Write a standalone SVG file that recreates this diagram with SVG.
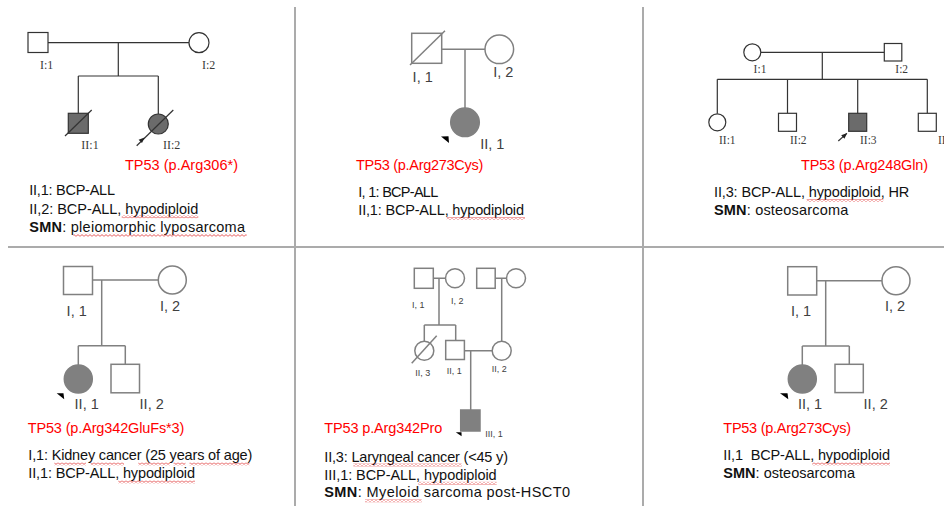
<svg xmlns="http://www.w3.org/2000/svg" width="944" height="506" viewBox="0 0 944 506">
<defs>
<pattern id="sq" width="4" height="3" patternUnits="userSpaceOnUse">
<path d="M0,2.4 L2,0.6 L4,2.4" fill="none" stroke="#e03030" stroke-width="0.8"/>
</pattern>
<marker id="ah" viewBox="0 0 10 10" refX="9" refY="5" markerWidth="5" markerHeight="5" orient="auto">
<path d="M0,1 L10,5 L0,9 Z" fill="#222"/>
</marker>
</defs>
<style>
.grid{stroke:#ababab;stroke-width:2;fill:none}
.l1{stroke:#333;stroke-width:1.2;fill:none}
.l2{stroke:#808080;stroke-width:1.5;fill:none}
.n1{fill:#fff;stroke:#333;stroke-width:1.2}
.a1{fill:#6b6b6b;stroke:#333;stroke-width:1.2}
.n2{fill:#fff;stroke:#808080;stroke-width:1.5}
.a2{fill:#808080;stroke:#808080;stroke-width:1.5}
.s1{font-family:"Liberation Serif","DejaVu Serif",serif;font-size:12px;fill:#3a3a3a;text-anchor:middle}
.s3{font-family:"Liberation Serif","DejaVu Serif",serif;font-size:11.5px;fill:#3a3a3a;text-anchor:middle}
.lb{font-family:"Liberation Sans",Arial,sans-serif;font-size:14.5px;fill:#404040;text-anchor:middle}
.lbs{font-family:"Liberation Sans",Arial,sans-serif;font-size:9px;fill:#404040;text-anchor:middle}
.tx{font-family:"Liberation Sans",Arial,sans-serif;font-size:14.5px;fill:#111}
.red{font-family:"Liberation Sans",Arial,sans-serif;font-size:14.5px;fill:#ff0000}
.b{font-weight:bold}
.tri{fill:#000}
</style>
<rect width="944" height="506" fill="#fff"/>

<g id="grid">
<line class="grid" x1="295" y1="7" x2="295" y2="506"/>
<line class="grid" x1="643" y1="7" x2="643" y2="506"/>
<line class="grid" x1="8" y1="247" x2="944" y2="247"/>
</g>

<g id="connectors">
<path class="l1" d="M48,42.7 H189 M118.3,42.7 V76 M78.3,76 H158.3 M78.3,76 V113.3 M158.3,76 V114"/>
<path class="l2" d="M441.7,49.3 H485 M465,49.3 V108"/>
<path class="l1" d="M760.8,52.3 H884.3 M822.3,52.3 V79.3 M717.3,79.3 H927.3 M717.3,79.3 V113.8 M787.5,79.3 V113.3 M857.7,79.3 V113.3 M927.3,79.3 V113.3"/>
<path class="l2" d="M92.5,280 H158.3 M101.7,280 V345.7 M78.3,345.7 H125.3 M78.3,345.7 V365 M125.3,345.7 V364.3"/>
<path class="l2" d="M433.3,278.3 H445.5 M439,278.3 V325 M424.3,325 H455.7 M424.3,325 V341.2 M455.7,325 V340.5 M495.2,278.3 H506.5 M501.7,278.3 V341.2 M464.4,350.7 H492.2 M470.7,350.7 V410"/>
<path class="l2" d="M816.7,280.7 H882 M825.7,280.7 V346 M802.3,346 H849.3 M802.3,346 V365 M849.3,346 V364.3"/>
</g>

<!-- Panel 1 -->
<g id="p1-I1"><rect class="n1" x="28" y="32.5" width="20" height="20"/><text class="s1" x="46.7" y="68.5">I:1</text></g>
<g id="p1-I2"><circle class="n1" cx="199" cy="42.7" r="10"/><text class="s1" x="208.7" y="68.5">I:2</text></g>
<g id="p1-II1"><rect class="a1" x="68.3" y="113.3" width="20" height="20"/><line class="l1" x1="65" y1="136" x2="91.7" y2="110"/><text class="s1" x="90" y="148.5">II:1</text></g>
<g id="p1-II2"><circle class="a1" cx="158.3" cy="124" r="10"/><line class="l1" x1="136.7" y1="145.7" x2="173.3" y2="110"/><polygon points="144.5,137.6 142,143 138.6,139.8" fill="#222"/><text class="s1" x="171.7" y="148.5">II:2</text></g>
<g id="p1-text">
<text class="red" x="125" y="170" textLength="113">TP53 (p.Arg306*)</text>
<text class="tx" x="29.3" y="195" textLength="85.7">II,1: BCP-ALL</text>
<text class="tx" x="29.3" y="213.5" textLength="169">II,2: BCP-ALL, hypodiploid</text>
<text class="tx" x="29.3" y="232" textLength="215.7"><tspan class="b">SMN</tspan>: pleiomorphic lyposarcoma</text>
<rect x="121.7" y="215.2" width="76.6" height="3" fill="url(#sq)"/>
<rect x="73.3" y="233.8" width="173.4" height="3" fill="url(#sq)"/>
</g>

<!-- Panel 2 -->
<g id="p2-I1"><rect class="n2" x="411.7" y="33.3" width="30" height="30"/><line class="l2" x1="410" y1="65" x2="445" y2="30.7"/><text class="lb" x="422.7" y="81.7">I, 1</text></g>
<g id="p2-I2"><circle class="n2" cx="499.3" cy="49.3" r="14.3"/><text class="lb" x="503.3" y="77.3">I, 2</text></g>
<g id="p2-II1"><circle class="a2" cx="465" cy="122.3" r="14.3"/><polygon class="tri" points="441,136.5 448.5,136.3 449,143"/><text class="lb" x="492.3" y="149.3">II, 1</text></g>
<g id="p2-text">
<text class="red" x="356" y="170" textLength="127.3">TP53 (p.Arg273Cys)</text>
<text class="tx" x="358.3" y="196.7" textLength="80">I, 1: BCP-ALL</text>
<text class="tx" x="358.3" y="215" textLength="165.7">II,1: BCP-ALL, hypodiploid</text>
<rect x="446.7" y="217" width="78.3" height="3" fill="url(#sq)"/>
</g>

<!-- Panel 3 -->
<g id="p3-I1"><circle class="n1" cx="752.3" cy="52.3" r="8.5"/><text class="s3" x="760" y="72.7">I:1</text></g>
<g id="p3-I2"><rect class="n1" x="884.3" y="43.5" width="17.5" height="17.5"/><text class="s3" x="901.7" y="72.7">I:2</text></g>
<g id="p3-II1"><circle class="n1" cx="717.3" cy="122.3" r="8.5"/><text class="s3" x="727.3" y="144">II:1</text></g>
<g id="p3-II2"><rect class="n1" x="778.5" y="113.3" width="18" height="18"/><text class="s3" x="798.3" y="144">II:2</text></g>
<g id="p3-II3"><rect class="a1" x="848.7" y="113.3" width="18" height="18"/><line class="l1" x1="838.3" y1="141" x2="846.8" y2="133.4" marker-end="url(#ah)"/><text class="s3" x="868.3" y="144">II:3</text></g>
<g id="p3-II4"><rect class="n1" x="918.3" y="113.3" width="18" height="18"/><text class="s3" x="938" y="144" style="text-anchor:start">II:4</text></g>
<g id="p3-text">
<text class="red" x="801" y="170" textLength="127">TP53 (p.Arg248Gln)</text>
<text class="tx" x="714" y="196.7" textLength="195.3">II,3: BCP-ALL, hypodiploid, HR</text>
<text class="tx" x="714" y="215" textLength="134.3"><tspan class="b">SMN</tspan>: osteosarcoma</text>
<rect x="806.7" y="199" width="76.6" height="3" fill="url(#sq)"/>
</g>

<!-- Panel 4 -->
<g id="p4-I1"><rect class="n2" x="63.5" y="266.5" width="29" height="28"/><text class="lb" x="76.7" y="315.7">I, 1</text></g>
<g id="p4-I2"><circle class="n2" cx="172.3" cy="280" r="14"/><text class="lb" x="170" y="310.7">I, 2</text></g>
<g id="p4-II1"><circle class="a2" cx="78.3" cy="379" r="14"/><polygon class="tri" points="56.7,393.3 63.5,393.2 64.2,399.2"/><text class="lb" x="86.7" y="409.3">II, 1</text></g>
<g id="p4-II2"><rect class="n2" x="111" y="364.3" width="28.5" height="28.5"/><text class="lb" x="151.7" y="409">II, 2</text></g>
<g id="p4-text">
<text class="red" x="27.7" y="433.3" textLength="156.6">TP53 (p.Arg342GluFs*3)</text>
<text class="tx" x="28.3" y="460" textLength="224">I,1: Kidney cancer (25 years of age)</text>
<text class="tx" x="28.3" y="478.3" textLength="166.7">II,1: BCP-ALL, hypodiploid</text>
<rect x="54.3" y="462.5" width="31.7" height="3" fill="url(#sq)"/>
<rect x="90.7" y="462.5" width="33.3" height="3" fill="url(#sq)"/>
<rect x="138.3" y="462.5" width="31.7" height="3" fill="url(#sq)"/>
<rect x="173.5" y="462.5" width="12" height="3" fill="url(#sq)"/>
<rect x="189.5" y="462.5" width="60" height="3" fill="url(#sq)"/>
<rect x="118.3" y="480.5" width="76.7" height="3" fill="url(#sq)"/>
</g>

<!-- Panel 5 -->
<g id="p5-I1"><rect class="n2" x="414.3" y="268.3" width="19" height="20"/><text class="lbs" x="418.3" y="308">I, 1</text></g>
<g id="p5-I2"><circle class="n2" cx="455" cy="278.3" r="9.5"/><text class="lbs" x="457.3" y="304">I, 2</text></g>
<g id="p5-I3"><rect class="n2" x="476.7" y="268.3" width="18.5" height="20"/></g>
<g id="p5-I4"><circle class="n2" cx="516" cy="278.3" r="9.5"/></g>
<g id="p5-II3"><circle class="n2" cx="424.3" cy="350.7" r="9.5"/><line class="l2" x1="411.7" y1="363.3" x2="436.7" y2="335.7"/><text class="lbs" x="422.7" y="375.7">II, 3</text></g>
<g id="p5-II1"><rect class="n2" x="445.7" y="340.5" width="18.7" height="19"/><text class="lbs" x="454.3" y="374">II, 1</text></g>
<g id="p5-II2"><circle class="n2" cx="501.7" cy="350.7" r="9.5"/><text class="lbs" x="499.3" y="372">II, 2</text></g>
<g id="p5-III1"><rect class="a2" x="460.7" y="410" width="19.3" height="21"/><polygon class="tri" points="455.8,432.3 461.5,432.2 461.6,436.2"/><text class="lbs" x="494" y="436.5">III, 1</text></g>
<g id="p5-text">
<text class="red" x="324.3" y="432.7" textLength="118">TP53 p.Arg342Pro</text>
<text class="tx" x="324.3" y="461.7" textLength="183.7">II,3: Laryngeal cancer (&lt;45 y)</text>
<text class="tx" x="324.3" y="480" textLength="172.4">III,1: BCP-ALL, hypodiploid</text>
<text class="tx" x="324.3" y="497.3" textLength="245.7"><tspan class="b">SMN</tspan>: Myeloid sarcoma post-HSCT0</text>
<rect x="353.3" y="463.5" width="108.4" height="3" fill="url(#sq)"/>
<rect x="418.3" y="481.8" width="78.4" height="3" fill="url(#sq)"/>
<rect x="365" y="499.3" width="56.7" height="3" fill="url(#sq)"/>
</g>

<!-- Panel 6 -->
<g id="p6-I1"><rect class="n2" x="787.7" y="266.7" width="29" height="28.3"/><text class="lb" x="801" y="316">I, 1</text></g>
<g id="p6-I2"><circle class="n2" cx="896" cy="280.7" r="14"/><text class="lb" x="895" y="311">I, 2</text></g>
<g id="p6-II1"><circle class="a2" cx="802.3" cy="379" r="14"/><polygon class="tri" points="780,393.3 787.5,393.2 788.3,399.2"/><text class="lb" x="810" y="409.3">II, 1</text></g>
<g id="p6-II2"><rect class="n2" x="835" y="364.3" width="28.3" height="28.3"/><text class="lb" x="875.7" y="409">II, 2</text></g>
<g id="p6-text">
<text class="red" x="723.3" y="433.3" textLength="127.7">TP53 (p.Arg273Cys)</text>
<text class="tx" x="723.3" y="460" textLength="166.7" xml:space="preserve">II,1  BCP-ALL, hypodiploid</text>
<text class="tx" x="723.3" y="478.3" textLength="131.7"><tspan class="b">SMN</tspan>: osteosarcoma</text>
<rect x="812.3" y="462.5" width="77.7" height="3" fill="url(#sq)"/>
</g>
</svg>
